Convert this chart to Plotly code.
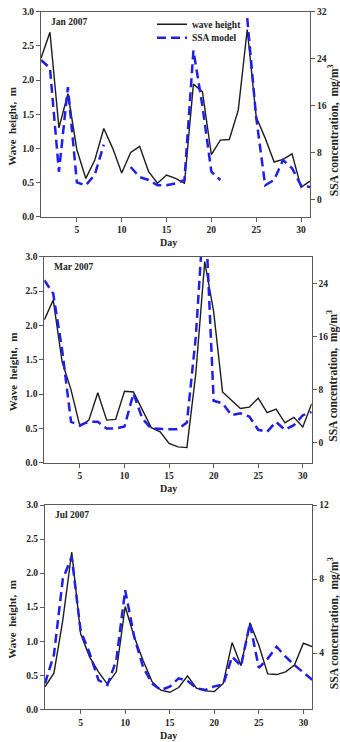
import plotly.graph_objects as go

W, H = 340, 742

days = list(range(1, 32))
x_ticks = [5, 10, 15, 20, 25, 30]
wave_ticks = [0.0, 0.5, 1.0, 1.5, 2.0, 2.5, 3.0]

panel_labels = ["Jan 2007", "Mar 2007", "Jul 2007"]

jan_wave = [2.32, 2.70, 1.30, 1.80, 0.98, 0.56, 0.83, 1.29, 1.00, 0.64, 0.94, 1.03, 0.66, 0.49,
            0.61, 0.56, 0.49, 1.94, 1.83, 0.91, 1.12, 1.13, 1.56, 2.74, 1.46, 1.15, 0.80, 0.84,
            0.92, 0.43, 0.52]
jan_ssa = [23.8, 22.4, 4.8, 19.2, 3.0, 2.5, 4.3, 9.4, None, None, 5.6, 3.9, 3.4, 2.5,
           2.5, 2.8, 3.4, 25.4, 16.0, 4.8, 3.4, None, None, 30.9, 14.0, 2.5, 3.4, 6.8,
           5.4, 2.5, 2.2]
jan_ssa_ticks = [0, 8, 16, 24, 32]

mar_wave = [2.08, 2.37, 1.47, 1.06, 0.53, 0.62, 1.02, 0.62, 0.63, 1.04, 1.03, 0.77, 0.51, 0.45,
            0.28, 0.23, 0.22, 1.30, 2.93, 2.20, 1.03, 0.91, 0.79, 0.81, 0.94, 0.73, 0.78, 0.58,
            0.66, 0.52, 0.86]
mar_ssa = [24.5, 22.5, 14.0, 3.1, 2.6, 3.1, 3.1, 2.1, 2.1, 2.4, 7.4, 3.6, 2.1, 2.0,
           2.0, 2.0, 3.0, 16.0, 37.0, 6.3, 5.9, 4.1, 4.4, 3.9, 1.9, 1.6, 3.1, 1.9,
           2.6, 4.1, 4.6]
mar_ssa_ticks = [0, 8, 16, 24]

jul_wave = [0.33, 0.53, 1.31, 2.31, 1.11, 0.77, 0.55, 0.37, 0.55, 1.51, 1.07, 0.72, 0.41, 0.28,
            0.25, 0.32, 0.49, 0.31, 0.27, 0.26, 0.38, 0.98, 0.64, 1.27, 0.94, 0.52, 0.51, 0.55,
            0.65, 0.97, 0.92]
jul_ssa = [2.36, 3.9, 8.0, 9.2, 5.2, 4.0, 2.54, 2.27, 3.6, 7.4, 4.9, 3.26, 2.36, 2.0,
           2.18, 2.63, 2.5, 2.1, 2.0, 2.2, 2.3, 3.8, 3.3, 5.6, 3.2, 3.7, 4.34, 3.8,
           3.35, 2.95, 2.55]
jul_ssa_ticks = [4, 8, 12]

wave_series = [jan_wave, mar_wave, jul_wave]
ssa_series = [jan_ssa, mar_ssa, jul_ssa]
ssa_ticks = [jan_ssa_ticks, mar_ssa_ticks, jul_ssa_ticks]
ssa_ranges = [[-2.84, 32], [-3.07, 28.06], [0.96, 12]]

# panel boxes in pixels: (left, right, top, bottom)
boxes = [(41, 310, 11.7, 216.7), (44.3, 311.7, 256.7, 462.7), (45, 312.3, 505, 709.3)]

FONT = "Liberation Serif"
BLACK = "#1c1c1c"
BLUE = "#1f1fe8"
AXC = "#5a5a5a"


def px(x):
    return x / W


def py(y):
    return 1 - y / H


fig = go.Figure()
annotations = []
layout = {}

for i in range(3):
    l, r, t, b = boxes[i]
    xa = "x" if i == 0 else f"x{i + 1}"
    ya = "y" if i == 0 else f"y{i + 1}"
    yra = f"y{i + 4}"
    xkey = "xaxis" if i == 0 else f"xaxis{i + 1}"
    ykey = "yaxis" if i == 0 else f"yaxis{i + 1}"
    yrkey = f"yaxis{i + 4}"

    fig.add_trace(go.Scatter(
        x=days, y=wave_series[i], mode="lines", name="wave height",
        line=dict(color=BLACK, width=1.4), xaxis=xa, yaxis=ya,
        showlegend=(i == 0), legend="legend"))
    fig.add_trace(go.Scatter(
        x=days, y=ssa_series[i], mode="lines", name="SSA model",
        line=dict(color=BLUE, width=2.5, dash="9px,5px"), xaxis=xa, yaxis=yra,
        connectgaps=False, showlegend=(i == 0), legend="legend2"))

    tickfont = dict(family=FONT, size=9.5, color="#222", weight="bold")
    layout[xkey] = dict(domain=[px(l), px(r)], anchor=ya, range=[1, 31],
                        tickvals=x_ticks, ticks="outside", ticklen=4, tickcolor=AXC,
                        showline=True, linecolor=AXC, linewidth=1, mirror=True,
                        showgrid=False, zeroline=False, tickfont=tickfont)
    layout[ykey] = dict(domain=[py(b), py(t)], anchor=xa, range=[0, 3],
                        tickvals=wave_ticks, tickformat=".1f", ticks="outside", ticklen=4,
                        tickcolor=AXC, showline=True, linecolor=AXC, linewidth=1,
                        showgrid=False, zeroline=False, tickfont=tickfont)
    layout[yrkey] = dict(overlaying=ya, anchor=xa, side="right", range=ssa_ranges[i],
                         tickvals=ssa_ticks[i], ticks="outside", ticklen=4, tickcolor=AXC,
                         showline=True, linecolor=AXC, linewidth=1,
                         showgrid=False, zeroline=False, tickfont=tickfont)

    annotations.append(dict(text=panel_labels[i], x=px(l + 8), y=py(t + 10), xref="paper",
                            yref="paper", xanchor="left", yanchor="middle", showarrow=False,
                            font=dict(family=FONT, size=9.5, color="#222", weight="bold")))
    annotations.append(dict(text="Wave  height,  m", x=px(12.5), y=py((t + b) / 2 + 12),
                            xref="paper", yref="paper", textangle=-90, showarrow=False,
                            xanchor="center", yanchor="middle",
                            font=dict(family=FONT, size=11, color="#222", weight="bold")))
    annotations.append(dict(text="SSA concentration,  mg/m<sup>3</sup>", x=px(333),
                            y=py((t + b) / 2 + 16), xref="paper", yref="paper",
                            textangle=-90, showarrow=False, xanchor="center",
                            yanchor="middle",
                            font=dict(family=FONT, size=11.5, color="#222", weight="bold")))
    annotations.append(dict(text="Day", x=px(168), y=py(b + 26), xref="paper", yref="paper",
                            showarrow=False, xanchor="center", yanchor="middle",
                            font=dict(family=FONT, size=10, color="#222", weight="bold")))

legfont = dict(family=FONT, size=9.5, color="#222", weight="bold")
fig.update_layout(
    width=W, height=H,
    margin=dict(l=0, r=0, t=0, b=0, autoexpand=False),
    paper_bgcolor="white", plot_bgcolor="white",
    annotations=annotations,
    legend=dict(x=px(152), y=py(24.3), xanchor="left", yanchor="middle",
                bgcolor="rgba(0,0,0,0)", font=legfont, borderwidth=0),
    legend2=dict(x=px(152), y=py(37.7), xanchor="left", yanchor="middle",
                 bgcolor="rgba(0,0,0,0)", font=legfont, borderwidth=0),
    **layout,
)

fig.write_html("out.html", config={"displayModeBar": False},
               post_script="document.body.style.margin='0';document.body.style.overflow='hidden';")
